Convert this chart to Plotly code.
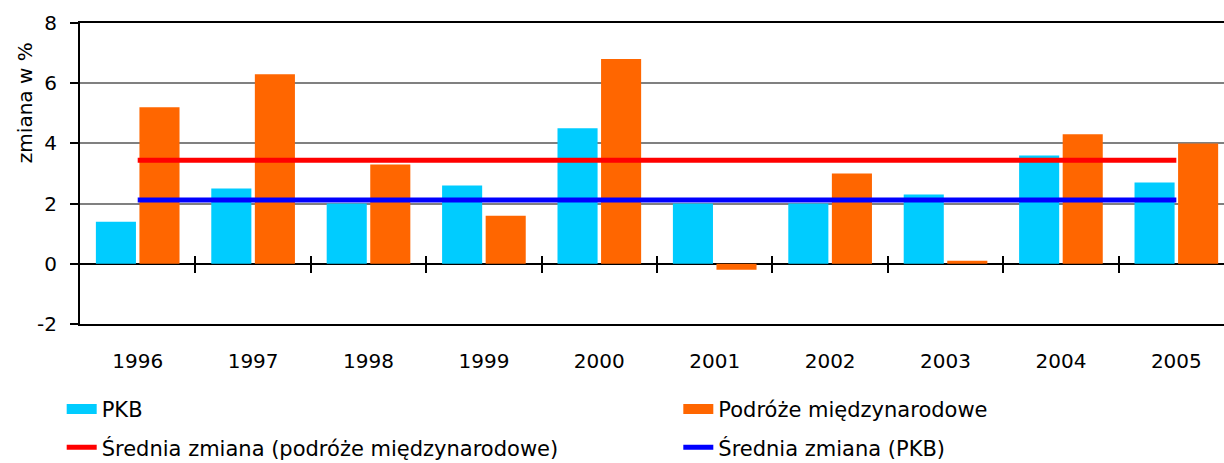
import plotly.graph_objects as go

years = ["1996", "1997", "1998", "1999", "2000", "2001", "2002", "2003", "2004", "2005"]
pkb = [1.4, 2.5, 2.0, 2.6, 4.5, 2.0, 2.0, 2.3, 3.6, 2.7]
podroze = [5.2, 6.3, 3.3, 1.6, 6.8, -0.2, 3.0, 0.1, 4.3, 4.0]
avg_podroze = 3.44
avg_pkb = 2.12
y_ticks = [-2, 0, 2, 4, 6, 8]
y_ticktext = ["-2", "0", "2", "4", "6", "8"]

name_pkb = "PKB"
name_pod = "Podróże międzynarodowe"
name_avg_pod = "Średnia zmiana (podróże międzynarodowe)"
name_avg_pkb = "Średnia zmiana (PKB)"

C_PKB = "#00CCFF"
C_POD = "#FF6600"
C_RED = "#FF0000"
C_BLUE = "#0000FF"
FONT = "DejaVu Sans, Arial, sans-serif"

idx = list(range(len(years)))
bounds = [i + 0.5 for i in idx[:-1]]

fig = go.Figure()
fig.add_trace(go.Bar(x=idx, y=pkb, name=name_pkb, marker=dict(color=C_PKB, line=dict(width=0)),
                     showlegend=False))
fig.add_trace(go.Bar(x=idx, y=podroze, name=name_pod, marker=dict(color=C_POD, line=dict(width=0)),
                     showlegend=False))
fig.add_trace(go.Scatter(x=idx, y=[avg_podroze] * len(idx), mode="lines", name=name_avg_pod,
                         line=dict(color=C_RED, width=5), showlegend=False))
fig.add_trace(go.Scatter(x=idx, y=[avg_pkb] * len(idx), mode="lines", name=name_avg_pkb,
                         line=dict(color=C_BLUE, width=5), showlegend=False))

# legend proxies
fig.add_trace(go.Scatter(x=[None], y=[None], mode="lines", name=name_pkb,
                         line=dict(color=C_PKB, width=14), legend="legend", legendgroup="a"))
fig.add_trace(go.Scatter(x=[None], y=[None], mode="lines", name=name_avg_pod,
                         line=dict(color=C_RED, width=5), legend="legend", legendgroup="b"))
fig.add_trace(go.Scatter(x=[None], y=[None], mode="lines", name=name_pod,
                         line=dict(color=C_POD, width=14), legend="legend2", legendgroup="c"))
fig.add_trace(go.Scatter(x=[None], y=[None], mode="lines", name=name_avg_pkb,
                         line=dict(color=C_BLUE, width=5), legend="legend2", legendgroup="d"))

# helper traces for crossing tick axes
fig.add_trace(go.Scatter(x=[], y=[], xaxis="x2", showlegend=False))
fig.add_trace(go.Scatter(x=[], y=[], xaxis="x3", showlegend=False))

xr = [-0.5, 9.413]
tick_axis = dict(overlaying="x", anchor="free", position=0.2, range=xr, tickmode="array",
                 tickvals=bounds, showticklabels=False, showline=False, showgrid=False,
                 zeroline=False, ticklen=8, tickwidth=2, tickcolor="black")

fig.update_layout(
    width=1224, height=463,
    margin=dict(l=80, r=0, t=23, b=139),
    paper_bgcolor="white", plot_bgcolor="white",
    font=dict(family=FONT, size=20, color="black"),
    barmode="group", bargap=0.245, bargroupgap=0.08,
    xaxis=dict(range=xr, tickmode="array", tickvals=idx, ticktext=years, ticks="",
               showline=True, linecolor="black", linewidth=2, mirror=True,
               showgrid=False, zeroline=False, ticklabelstandoff=18,
               tickfont=dict(size=20)),
    xaxis2=dict(tick_axis, ticks="outside"),
    xaxis3=dict(tick_axis, ticks="inside"),
    yaxis=dict(range=[-2, 8], tickmode="array", tickvals=y_ticks, ticktext=y_ticktext,
               domain=[0, 1],
               showgrid=True, gridcolor="#808080", gridwidth=1.5,
               zeroline=True, zerolinecolor="black", zerolinewidth=2,
               showline=True, linecolor="black", linewidth=2,
               ticks="outside", ticklen=8, tickwidth=2, tickcolor="black",
               ticklabelstandoff=9, tickfont=dict(size=20)),
    legend=dict(x=-0.016, xanchor="left", y=0.16, yref="container", yanchor="top",
                orientation="v", font=dict(size=21), tracegroupgap=8,
                bgcolor="rgba(0,0,0,0)"),
    legend2=dict(x=0.523, xanchor="left", y=0.16, yref="container", yanchor="top",
                 orientation="v", font=dict(size=21), tracegroupgap=8,
                 bgcolor="rgba(0,0,0,0)"),
    annotations=[dict(text="zmiana w %", textangle=-90, xref="paper", yref="paper",
                      x=-0.048, y=0.734, xanchor="center", yanchor="middle",
                      showarrow=False, font=dict(size=20))],
)

fig.write_html("out.html", config={"displayModeBar": False},
               post_script="document.body.style.margin='0';document.body.style.overflow='hidden';")
